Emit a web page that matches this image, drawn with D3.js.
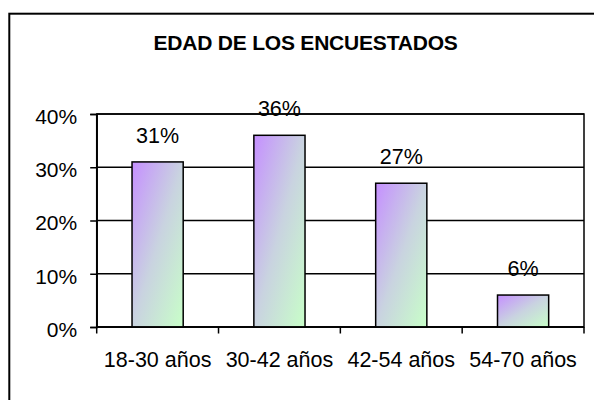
<!DOCTYPE html>
<html>
<head>
<meta charset="utf-8">
<script src="https://cdn.jsdelivr.net/npm/d3@7"></script>
<style>
  html, body { margin: 0; padding: 0; background: #fff; }
  svg { display: block; font-family: Arial, "Liberation Sans", sans-serif; }
</style>
</head>
<body>
<div id="wrapper"></div>
<script>
// data
const categories = ["18-30 años", "30-42 años", "42-54 años", "54-70 años"]
const values = [0.31, 0.36, 0.27, 0.06]
const yTicks = [0, 0.1, 0.2, 0.3, 0.4]
const title = "EDAD DE LOS ENCUESTADOS"

const data = categories.map((c, i) => ({ cat: c, value: values[i] }))

const dimensions = {
  width: 594,
  height: 400,
  plot: { left: 96.7, right: 584, top: 114, bottom: 327 },
}

const svg = d3.select("#wrapper")
  .append("svg")
  .attr("width", dimensions.width)
  .attr("height", dimensions.height)

const defs = svg.append("defs")
const grad = defs.append("linearGradient")
  .attr("id", "barFill")
  .attr("x1", 0).attr("y1", 0)
  .attr("x2", 1).attr("y2", 1)
grad.append("stop").attr("offset", "0%").attr("stop-color", "#c58fff")
grad.append("stop").attr("offset", "50%").attr("stop-color", "#c9d3e0")
grad.append("stop").attr("offset", "100%").attr("stop-color", "#c8ffc8")

// outer chart frame (runs off the right and bottom edge)
svg.append("rect")
  .attr("x", 9.3).attr("y", 13.7)
  .attr("width", 620).attr("height", 420)
  .attr("fill", "none")
  .attr("stroke", "#000")
  .attr("stroke-width", 2)

// title
svg.append("text")
  .attr("x", 305.5)
  .attr("y", 50)
  .attr("text-anchor", "middle")
  .attr("font-weight", "bold")
  .attr("font-size", 21)
  .attr("letter-spacing", -0.2)
  .text(title)

// scales
const xScale = d3.scaleBand()
  .domain(categories)
  .range([dimensions.plot.left, dimensions.plot.right])
  .paddingInner(0.58)
  .paddingOuter(0.29)

const yScale = d3.scaleLinear()
  .domain([0, 0.4])
  .range([dimensions.plot.bottom, dimensions.plot.top])

const fmt = d3.format(".0%")

// data labels (drawn first, the grid runs over them like in the original)
svg.append("g")
  .selectAll("text")
  .data(data)
  .join("text")
  .attr("x", d => xScale(d.cat) + xScale.bandwidth() / 2)
  .attr("y", d => yScale(d.value) - 19)
  .attr("text-anchor", "middle")
  .attr("font-size", 21.5)
  .text(d => fmt(d.value))

// gridlines
svg.append("g")
  .selectAll("line")
  .data(yTicks)
  .join("line")
  .attr("x1", dimensions.plot.left)
  .attr("x2", dimensions.plot.right)
  .attr("y1", d => yScale(d))
  .attr("y2", d => yScale(d))
  .attr("stroke", "#000")
  .attr("stroke-width", 1.5)

// plot area border
svg.append("rect")
  .attr("x", dimensions.plot.left)
  .attr("y", dimensions.plot.top)
  .attr("width", dimensions.plot.right - dimensions.plot.left)
  .attr("height", dimensions.plot.bottom - dimensions.plot.top)
  .attr("fill", "none")
  .attr("stroke", "#000")
  .attr("stroke-width", 1.5)

// bars
svg.append("g")
  .selectAll("rect")
  .data(data)
  .join("rect")
  .attr("x", d => xScale(d.cat))
  .attr("y", d => yScale(d.value))
  .attr("width", xScale.bandwidth())
  .attr("height", d => yScale(0) - yScale(d.value))
  .attr("fill", "url(#barFill)")
  .attr("stroke", "#000")
  .attr("stroke-width", 1.5)

// y axis
const yAxis = svg.append("g")
  .attr("transform", `translate(${dimensions.plot.left},0)`)
  .call(d3.axisLeft(yScale).tickValues(yTicks).tickFormat(fmt).tickSize(6.5).tickPadding(13))
yAxis.select(".domain").attr("stroke-width", 1.5)
yAxis.selectAll(".tick line").attr("stroke-width", 1.5)
yAxis.selectAll(".tick text")
  .attr("font-size", 21)
  .attr("font-family", "Arial, 'Liberation Sans', sans-serif")
  .attr("fill", "#000")
  .attr("dy", "0.45em")

// x axis: ticks sit on the category boundaries
const step = xScale.step()
const boundaries = d3.range(categories.length + 1).map(i => dimensions.plot.left + i * step)
const xAxis = svg.append("g")
  .attr("transform", `translate(0,${dimensions.plot.bottom})`)
xAxis.append("line")
  .attr("x1", dimensions.plot.left).attr("x2", dimensions.plot.right)
  .attr("stroke", "#000").attr("stroke-width", 1.5)
xAxis.selectAll(".btick")
  .data(boundaries)
  .join("line")
  .attr("class", "btick")
  .attr("x1", d => d).attr("x2", d => d)
  .attr("y1", 0).attr("y2", 6.5)
  .attr("stroke", "#000").attr("stroke-width", 1.5)
xAxis.selectAll(".clabel")
  .data(categories)
  .join("text")
  .attr("class", "clabel")
  .attr("x", d => xScale(d) + xScale.bandwidth() / 2)
  .attr("y", 39.5)
  .attr("text-anchor", "middle")
  .attr("font-size", 21.5)
  .text(d => d)
</script>
</body>
</html>
